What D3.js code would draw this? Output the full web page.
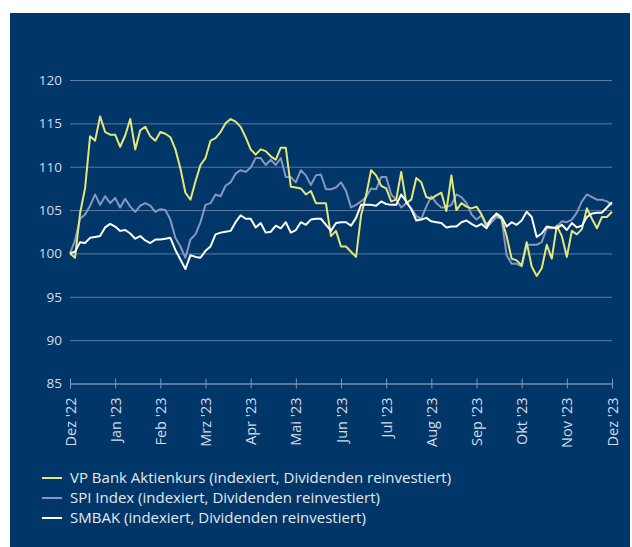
<!DOCTYPE html>
<html><head><meta charset="utf-8">
<script src="https://cdn.jsdelivr.net/npm/d3@7/dist/d3.min.js"></script>
<style>body{margin:0;background:#fff}svg{display:block}text{font-family:"Open Sans",Lato,sans-serif}</style>
</head><body>
<script>
const months = ["Dez '22","Jan '23","Feb '23","Mrz '23","Apr '23","Mai '23","Jun '23","Jul '23","Aug '23","Sep '23","Okt '23","Nov '23","Dez '23"];
const yTicks = [85,90,95,100,105,110,115,120];
const seriesNames = ["VP Bank Aktienkurs (indexiert, Dividenden reinvestiert)","SPI Index (indexiert, Dividenden reinvestiert)","SMBAK (indexiert, Dividenden reinvestiert)"];
const vpBank = [
100.0,99.5,104.6,107.5,113.5,113.0,115.8,114.0,113.7,113.7,
112.3,113.6,115.5,112.0,114.2,114.6,113.5,113.0,114.0,113.8,
113.4,112.0,109.8,107.0,106.2,108.3,110.2,111.0,113.0,113.3,
114.0,115.0,115.5,115.2,114.6,113.4,112.0,111.4,112.0,111.8,
111.2,110.8,112.2,112.2,107.7,107.6,107.5,106.8,107.2,105.8,
105.8,105.8,102.0,102.6,100.8,100.8,100.2,99.6,104.4,106.7,
109.6,109.0,107.8,107.5,106.0,106.2,109.4,105.8,106.2,108.7,
108.2,106.5,106.3,106.7,107.0,104.9,109.0,105.0,105.8,105.4,
105.2,105.4,104.5,103.3,104.0,104.5,104.0,102.0,99.4,99.2,
98.6,101.3,98.5,97.4,98.3,101.0,99.4,103.2,102.0,99.6,
102.6,102.2,102.8,105.2,104.0,102.9,104.2,104.2,104.8];
const spi = [
100.0,101.5,104.0,104.5,105.5,106.8,105.6,106.6,105.8,106.4,
105.3,106.3,105.4,104.8,105.5,105.8,105.5,104.8,105.1,105.0,
103.9,101.8,100.8,99.5,101.6,102.2,103.6,105.6,105.8,106.8,
106.6,107.8,108.2,109.2,109.6,109.4,109.9,111.0,111.0,110.2,
110.8,110.2,111.0,108.8,108.8,108.2,109.6,109.0,107.9,109.0,
109.1,107.4,107.4,107.6,108.2,107.2,105.3,105.6,106.0,106.5,
107.5,107.4,108.8,108.8,106.8,106.2,105.3,105.8,105.2,104.3,
104.0,105.4,106.6,105.8,105.3,105.3,105.6,106.8,106.5,105.8,
104.5,103.9,104.4,103.0,103.6,104.2,104.0,99.8,98.8,98.8,
98.5,101.0,101.0,101.0,101.3,102.9,102.9,103.1,103.7,103.6,
103.9,104.7,106.0,106.8,106.5,106.2,106.2,106.0,105.6];
const smbak = [
100.0,100.2,101.3,101.2,101.8,101.9,102.0,103.0,103.4,103.1,
102.6,102.7,102.3,101.7,102.0,101.5,101.2,101.6,101.6,101.7,
101.8,100.4,99.3,98.2,99.8,99.6,99.5,100.3,100.8,102.2,
102.4,102.5,102.6,103.6,104.4,104.0,104.0,103.0,103.5,102.4,
102.5,103.2,102.9,103.6,102.4,102.7,103.6,103.3,103.9,104.0,
104.0,103.3,102.6,103.5,103.6,103.6,103.2,104.1,105.6,105.6,
105.6,105.5,106.0,105.7,105.6,105.6,106.8,106.0,105.1,103.8,
103.9,104.1,103.7,103.6,103.5,103.0,103.1,103.1,103.6,103.8,
103.4,103.1,103.4,102.9,104.0,104.6,104.2,103.1,103.6,103.3,
103.8,104.8,104.2,101.9,102.3,103.1,103.0,102.9,103.3,102.7,
103.5,103.0,103.2,104.2,104.6,104.7,104.7,105.3,105.9];
const colors = ["#e4e77a","#8698c0","#ffffff"];

const W = 632, H = 547;
const svg = d3.select("body").append("svg").attr("width", W).attr("height", H);
svg.append("rect").attr("x",10).attr("y",13).attr("width",620).attr("height",H-13).attr("fill","#013668");

const left = 70, right = 612;
const x = d3.scaleLinear().domain([0, months.length-1]).range([left, right]);
const y = d3.scaleLinear().domain([85,120]).range([383.5, 80]);

// y grid + labels
const gy = svg.append("g").attr("transform",`translate(${left},0)`)
  .call(d3.axisLeft(y).tickValues(yTicks).tickSize(-(right-left)).tickPadding(8).tickFormat(d3.format("d")));
gy.select(".domain").remove();
gy.selectAll(".tick line").attr("stroke","#5d7ba3").attr("stroke-width",1);
gy.selectAll(".tick text").attr("fill","#d3dcea").style("font-size","13.5px");

// x axis
const gx = svg.append("g").attr("transform",`translate(0,${y(85)})`)
  .call(d3.axisBottom(x).tickValues(d3.range(months.length)).tickFormat(i=>months[i]).tickSize(5));
gx.select(".domain").attr("stroke","#8096b8").attr("stroke-width",1);
gx.selectAll(".tick line").attr("stroke","#8096b8").attr("y1",-5).attr("y2",5);
gx.selectAll(".tick text").attr("fill","#d3dcea").style("font-size","14.5px")
  .attr("text-anchor","end").attr("transform","translate(0,14) rotate(-90)").attr("x",0).attr("y",0).attr("dy","0.35em");

// lines
const n = vpBank.length;
const line = d3.line().x((d,i)=>x(i*(months.length-1)/(n-1))).y(d=>y(d)).curve(d3.curveLinear);
const data = [spi, vpBank, smbak];
const cols = [colors[1], colors[0], colors[2]];
data.forEach((s,j)=>{
  svg.append("path").datum(s).attr("d",line).attr("fill","none").attr("stroke",cols[j]).attr("stroke-width",2).attr("stroke-linejoin","round");
});

// legend
const lg = svg.append("g");
seriesNames.forEach((name,i)=>{
  const yy = 478 + i*20;
  lg.append("line").attr("x1",42).attr("x2",62).attr("y1",yy).attr("y2",yy).attr("stroke",colors[i]).attr("stroke-width",2);
  lg.append("text").attr("x",70).attr("y",yy).attr("dy","0.35em").attr("fill","#e3e9f1").style("font-size","15px").text(name);
});
</script>
</body></html>
